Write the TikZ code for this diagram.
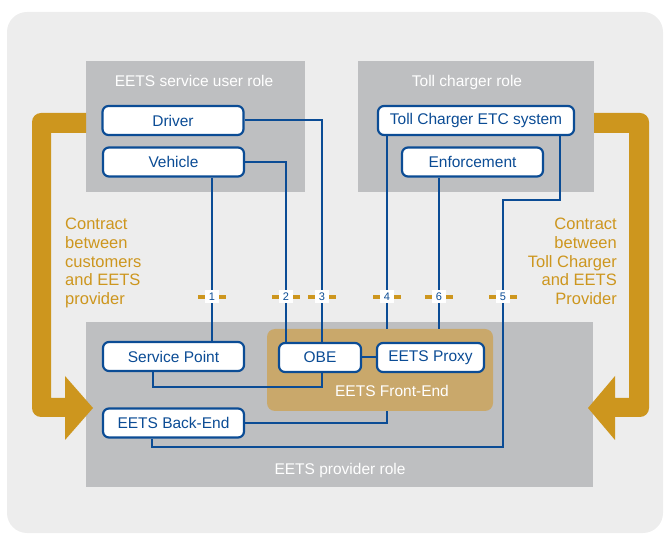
\documentclass[tikz,border=0pt]{standalone}
\usepackage{fontspec}
\setmainfont{Liberation Sans}
\usepackage{xcolor}
\usepackage{tikz}
\usetikzlibrary{positioning}
\definecolor{EtsBlue}{HTML}{0B4C95}
\definecolor{EtsGold}{HTML}{CD961E}
\definecolor{EtsTan}{HTML}{C9A86B}
\definecolor{RoleGrey}{HTML}{BEBFC1}
\definecolor{PanelGrey}{HTML}{EDEDED}
\tikzset{
  role/.style={fill=RoleGrey, draw=none, inner sep=0pt},
  roletitle/.style={text=white, font=\fontsize{15.5}{18}\selectfont, inner sep=0pt, anchor=base},
  unit/.style={draw=EtsBlue, fill=white, line width=2.2pt, rounded corners=6pt, text=EtsBlue,
    font=\fontsize{15.5}{18}\selectfont, inner sep=0pt, minimum height=29pt},
  link/.style={draw=EtsBlue, line width=2pt},
  refpoint/.style={fill=white, text=EtsBlue, font=\fontsize{11}{12}\selectfont, inner sep=0pt,
    minimum width=14pt, minimum height=13pt},
  refbar/.style={draw=EtsGold, line width=4.5pt},
  contract/.style={text=EtsGold, font=\fontsize{16.5}{18.75}\selectfont, inner sep=0pt},
  bracket/.style={fill=EtsGold, draw=none},
}

\begin{document}
\begin{tikzpicture}[x=1pt, y=-1pt]
  \useasboundingbox (0,0) rectangle (667,534);
  \fill[PanelGrey, rounded corners=20pt] (7,12) rectangle (663,533);

  % Role areas
  \node[role, minimum width=219pt, minimum height=131pt] (UserRole) at (195.5,126.5) {};
  \node[role, minimum width=236pt, minimum height=131pt] (TollRole) at (476,126.5) {};
  \node[role, minimum width=507pt, minimum height=165pt] (ProvRole) at (339.5,404.5) {};
  \node[roletitle] (UserTitle) at (194,87) {EETS service user role};
  \node[roletitle] (TollTitle) at (467,87) {Toll charger role};
  \node[roletitle] (ProvTitle) at (340,475) {EETS provider role};

  % Contract brackets
  \fill[bracket] (86,113) [rounded corners=9pt] -- (32,113) -- (32,417) [sharp corners] -- (65,417)
    -- (65,440) -- (93,408) -- (65,376) -- (65,398) -- (51,398) -- (51,133) -- (86,133) -- cycle;
  \fill[bracket] (594,113) [rounded corners=9pt] -- (649,113) -- (649,417) [sharp corners] -- (615,417)
    -- (615,440) -- (588,408) -- (615,376) -- (615,398) -- (629,398) -- (629,133) -- (594,133) -- cycle;
  \node[contract, anchor=north west, align=left] (LeftText) at (65,218)
    {Contract\\between\\customers\\and EETS\\provider};
  \node[contract, anchor=north east, align=right] (RightText) at (617,218)
    {Contract\\between\\Toll Charger\\and EETS\\Provider};

  % Front-End
  \node[fill=EtsTan, rounded corners=8pt, minimum width=226pt, minimum height=82pt, inner sep=0pt] (FE) at (380,370) {};
  \node[roletitle] (FETitle) at (392,397) {EETS Front-End};

  % Units
  \node[unit, minimum width=141pt] (Driver) at (173,120.5) {Driver};
  \node[unit, minimum width=141pt] (Vehicle) at (173.5,162) {Vehicle};
  \node[unit, minimum width=196pt] (ETC) at (476,120.5) {Toll Charger ETC system};
  \node[unit, minimum width=141pt] (Enf) at (472.5,162) {Enforcement};
  \node[unit, minimum width=141pt] (SP) at (173.5,356.5) {Service Point};
  \node[unit, minimum width=82pt] (OBE) at (320,357.5) {OBE};
  \node[unit, minimum width=107pt] (Proxy) at (430.5,357.5) {EETS Proxy};
  \node[unit, minimum width=141pt] (BE) at (173.5,423) {EETS Back-End};

  % Interfaces
  \foreach \n/\x in {1/212, 2/286, 3/322, 4/387, 6/439, 5/503}
    \coordinate (p\n) at (\x,297);
  \coordinate (k5) at (560,200);
  \coordinate (k6) at (152,447);
  \coordinate (k7) at (153,387);

  \draw[link] (Vehicle.south -| p1) -- (SP.north -| p1);
  \draw[link] (Vehicle.east) -| (OBE.north -| p2);
  \draw[link] (Driver.east) -| (OBE.north -| p3);
  \draw[link] (ETC.south -| p4) -- (FE.north -| p4);
  \draw[link] (Enf.south -| p6) -- (FE.north -| p6);
  \draw[link] (ETC.south -| k5) -- (k5) -| (k6 -| p5) -- (k6) -- (BE.south -| k6);
  \draw[link] (SP.south -| k7) -- (k7) -| (OBE.south -| p3);
  \draw[link] (BE.east) -| (FE.south -| p4);
  \draw[link] (OBE) -- (Proxy);

  \foreach \n in {1,...,6}{
    \draw[refbar] ([xshift=-14pt]p\n) -- ([xshift=14pt]p\n);
    \node[refpoint] (n\n) at (p\n) {\n};
  }
\end{tikzpicture}
\end{document}
